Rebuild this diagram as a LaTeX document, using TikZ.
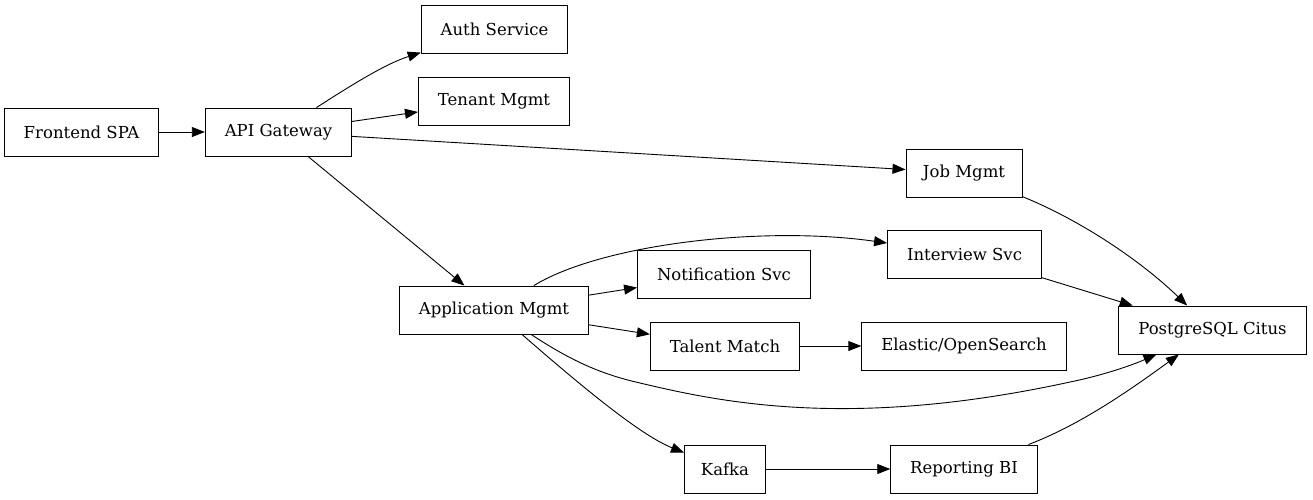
\documentclass[tikz,border=0pt]{standalone}
\usepackage{fontspec}
\setmainfont{DejaVu Serif}
\usepackage{tikz}
\usetikzlibrary{arrows.meta}

\begin{document}
\begin{tikzpicture}[x=1pt,y=-1pt,
  svc/.style={draw,line width=0.9pt,inner xsep=19.5pt,minimum height=48pt,font=\fontsize{16.5}{19}\selectfont},
  link/.style={line width=0.9pt,-{Triangle[length=13pt,width=10pt]}}]
  \useasboundingbox (0,0) rectangle (1313,499);

  % Nodes
  \node[svc] (spa) at (81.5,132) {Frontend SPA};
  \node[svc] (api) at (278.5,132) {API Gateway};
  \node[svc] (auth) at (494.5,29) {Auth Service};
  \node[svc] (tenant) at (494,101) {Tenant Mgmt};
  \node[svc,inner xsep=17pt] (job) at (964,173) {Job Mgmt};
  \node[svc] (interview) at (964.5,254) {Interview Svc};
  \node[svc] (notif) at (724,274) {Notification Svc};
  \node[svc] (app) at (494,310) {Application Mgmt};
  \node[svc] (talent) at (725,346) {Talent Match};
  \node[svc] (elastic) at (964,346) {Elastic/OpenSearch};
  \node[svc] (pg) at (1212.5,330) {PostgreSQL Citus};
  \node[svc,inner xsep=16.5pt] (kafka) at (725,469) {Kafka};
  \node[svc] (bi) at (964,469) {Reporting BI};

  % Edges
  \draw[link] (spa) -- (api);
  \draw[link] (api) .. controls (350,86) and (385,64) .. (auth);
  \draw[link] (api) -- (tenant);
  \draw[link] (api) -- (job);
  \draw[link] (api) -- (app);
  \draw[link] (app) .. controls (600,245) and (760,225) .. (interview);
  \draw[link] (app) -- (notif);
  \draw[link] (app) -- (talent);
  \draw[link] (talent) -- (elastic);
  \draw[link] (app) .. controls (570,360) and (600,374) .. (640,383)
    .. controls (720,402) and (850,430) .. (1070,382)
    .. controls (1100,376) and (1130,366) .. (pg);
  \draw[link] (app) .. controls (580,385) and (640,435) .. (kafka);
  \draw[link] (kafka) -- (bi);
  \draw[link] (job) .. controls (1080,220) and (1140,260) .. (pg);
  \draw[link] (interview) -- (pg);
  \draw[link] (bi) .. controls (1080,425) and (1130,390) .. (pg);
\end{tikzpicture}
\end{document}
